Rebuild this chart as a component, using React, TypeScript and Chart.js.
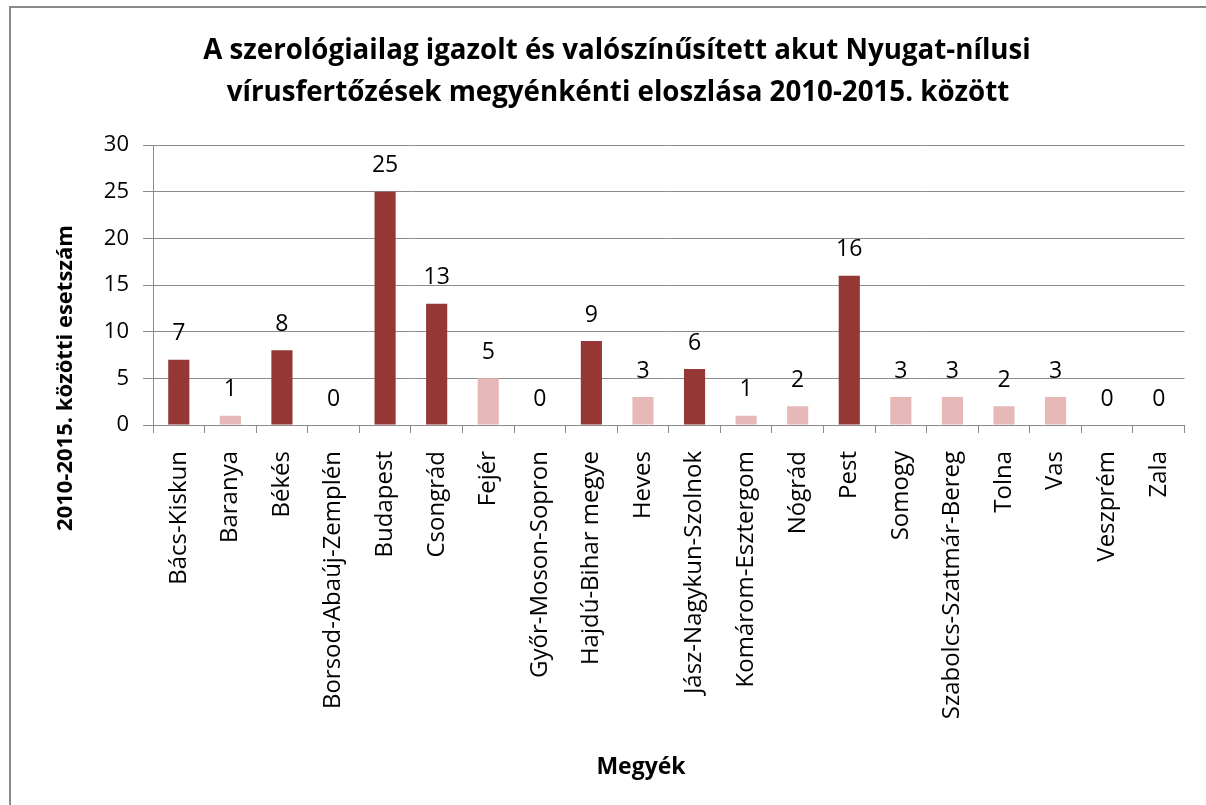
import React, { useEffect, useRef } from "react";
import { Chart, registerables } from "chart.js";

Chart.register(...registerables);

const categories = [
  "Bács-Kiskun", "Baranya", "Békés", "Borsod-Abaúj-Zemplén", "Budapest", "Csongrád",
  "Fejér", "Győr-Moson-Sopron", "Hajdú-Bihar megye", "Heves", "Jász-Nagykun-Szolnok",
  "Komárom-Esztergom", "Nógrád", "Pest", "Somogy", "Szabolcs-Szatmár-Bereg", "Tolna",
  "Vas", "Veszprém", "Zala",
];
const cases = [7, 1, 8, 0, 25, 13, 5, 0, 9, 3, 6, 1, 2, 16, 3, 3, 2, 3, 0, 0];
const yTicks = [0, 5, 10, 15, 20, 25, 30];
const titleLines = [
  "A szerológiailag igazolt és valószínűsített akut Nyugat-nílusi",
  "vírusfertőzések megyénkénti eloszlása 2010-2015. között",
];
const yTitle = "2010-2015. közötti esetszám";
const xTitle = "Megyék";

const DARK = "#953735";
const LIGHT = "#E6B9B8";
const GRID = "#8c8c8c";
const FONT = "'Open Sans', Lato, sans-serif";

export default function App() {
  const ref = useRef<HTMLCanvasElement | null>(null);
  useEffect(() => {
    if (!ref.current) return;
    const labelsPlugin = {
      id: "extras",
      afterDatasetsDraw(chart: any) {
        const ctx = chart.ctx;
        const meta = chart.getDatasetMeta(0);
        ctx.save();
        ctx.fillStyle = "#000";
        ctx.font = `23px ${FONT}`;
        ctx.textAlign = "center";
        ctx.textBaseline = "middle";
        meta.data.forEach((bar: any, i: number) => {
          ctx.fillText(String(cases[i]), bar.x, bar.y - 26);
        });
        ctx.restore();
      },
      afterDraw(chart: any) {
        const ctx = chart.ctx;
        ctx.save();
        ctx.fillStyle = "#000";
        ctx.textAlign = "center";
        ctx.textBaseline = "middle";
        ctx.font = `bold 27.7px ${FONT}`;
        ctx.fillText(titleLines[0], 617, 51);
        ctx.fillText(titleLines[1], 618, 93);
        ctx.font = `bold 23px ${FONT}`;
        ctx.fillText(xTitle, 641, 767);
        ctx.font = `bold 22px ${FONT}`;
        ctx.translate(66, 378);
        ctx.rotate(-Math.PI / 2);
        ctx.fillText(yTitle, 0, 0);
        ctx.restore();
        // frame
        ctx.save();
        ctx.strokeStyle = "#8a8a8a";
        ctx.lineWidth = 2;
        ctx.beginPath();
        ctx.moveTo(10, 805);
        ctx.lineTo(10, 7);
        ctx.lineTo(1206, 7);
        ctx.stroke();
        ctx.restore();
      },
    };
    const chart = new Chart(ref.current, {
      type: "bar",
      data: {
        labels: categories,
        datasets: [
          {
            data: cases,
            backgroundColor: cases.map((v) => (v >= 6 ? DARK : LIGHT)),
            barPercentage: 0.82,
            categoryPercentage: 0.5,
          },
        ],
      },
      options: {
        responsive: false,
        animation: false,
        layout: { padding: { top: 145, left: 12, right: 19, bottom: 0 } },
        plugins: { legend: { display: false }, tooltip: { enabled: false }, title: { display: false } },
        scales: {
          x: {
            grid: { display: true, drawOnChartArea: false, offset: true, tickLength: 8, color: GRID },
            border: { display: true, color: GRID, width: 1 },
            ticks: {
              autoSkip: false,
              maxRotation: 90,
              minRotation: 90,
              padding: 18,
              color: "#000",
              font: { family: FONT, size: 24 },
            },
            afterFit(scale: any) {
              scale.height = 805 - 425;
            },
          },
          y: {
            min: 0,
            max: 30,
            afterBuildTicks(scale: any) {
              scale.ticks = yTicks.map((v) => ({ value: v }));
            },
            grid: { color: GRID, tickLength: 10, lineWidth: 1 },
            border: { display: true, color: GRID, width: 1 },
            ticks: {
              padding: 14,
              color: "#000",
              font: { family: FONT, size: 22 },
            },
            afterFit(scale: any) {
              scale.width = 153 - 12;
            },
          },
        },
      },
      plugins: [labelsPlugin],
    });
    return () => chart.destroy();
  }, []);
  return (
    <div style={{ position: "absolute", left: 0, top: 0, width: 1206, height: 805, background: "#fff" }}>
      <canvas ref={ref} width={1206} height={805} style={{ display: "block" }} />
    </div>
  );
}
